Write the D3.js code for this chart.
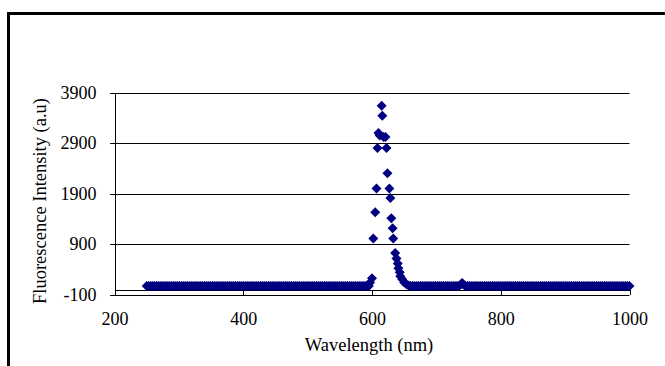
<!DOCTYPE html>
<html>
<head>
<meta charset="utf-8">
<script src="https://cdn.jsdelivr.net/npm/d3@7"></script>
<style>
  body { margin: 0; background: #fff; }
  svg { display: block; }
  text { font-family: "Liberation Serif", "Times New Roman", serif; fill: #000; }
  .axis text { font-size: 18px; }
  .axis path, .axis line { stroke: #000; shape-rendering: crispEdges; }
</style>
</head>
<body>
<div id="chart-area"></div>
<script>
// fluorescence emission scan
var flatLeftNm = [250,253,256,259,262,265,268,271,274,277,280,283,286,289,292,295,298,301,304,307,
    310,313,316,319,322,325,328,331,334,337,340,343,346,349,352,355,358,361,364,367,
    370,373,376,379,382,385,388,391,394,397,400,403,406,409,412,415,418,421,424,427,
    430,433,436,439,442,445,448,451,454,457,460,463,466,469,472,475,478,481,484,487,
    490,493,496,499,502,505,508,511,514,517,520,523,526,529,532,535,538,541,544,547,
    550,553,556,559,562,565,568,571,574,577,580,583,586,589,592,595];
var flatRightNm = [660,663,666,669,672,675,678,681,684,687,690,693,696,699,702,705,708,711,714,717,
    720,723,726,729,732,735,745,748,751,754,757,760,763,766,769,772,775,778,781,784,
    787,790,793,796,799,802,805,808,811,814,817,820,823,826,829,832,835,838,841,844,
    847,850,853,856,859,862,865,868,871,874,877,880,883,886,889,892,895,898,901,904,
    907,910,913,916,919,922,925,928,931,934,937,940,943,946,949,952,955,958,961,964,
    967,970,973,976,979,982,985,988,991,994,997,1000];
var baseLevel = 70;

var peakNm = [597,600,602,605,607,608.5,610,612,615,616,618,621,622.5,624,627,628.5,630,632,633,
    636,638,640,641,643,644,647,650,654,657,738,740,742];
var peakVal = [140,220,1010,1530,2000,2800,3100,3050,3640,3440,3020,3020,2800,2300,2000,1810,1410,1210,1010,
    720,615,515,420,340,260,200,140,100,80,100,130,100];

var yTicks = [-100,900,1900,2900,3900];
var xTicks = [200,400,600,800,1000];

var points = flatLeftNm.map((w)=>{ return {w: w, v: baseLevel}; })
    .concat(flatRightNm.map((w)=>{ return {w: w, v: baseLevel}; }))
    .concat(peakNm.map((w,i)=>{ return {w: w, v: peakVal[i]}; }));

var width = 665, height = 366;
var svg = d3.select("#chart-area").append("svg")
    .attr("width", width)
    .attr("height", height);

svg.append("rect").attr("width", width).attr("height", height).attr("fill", "#fff");

// outer frame (only top and left show in the picture)
svg.append("path")
    .attr("d", "M8.5,366 V13.5 H665")
    .attr("fill", "none")
    .attr("stroke", "#000")
    .attr("stroke-width", 3);

var x = d3.scaleLinear().domain([200,1000]).range([114.5,629.5]);
var y = d3.scaleLinear().domain([-100,3900]).range([294.5,92.5]);

// gridlines
svg.append("g").selectAll("line")
    .data(yTicks)
    .enter().append("line")
        .attr("x1", x(200)).attr("x2", x(1000))
        .attr("y1", (d)=>{ return Math.round(y(d)) + 0.5; })
        .attr("y2", (d)=>{ return Math.round(y(d)) + 0.5; })
        .attr("stroke", "#000")
        .attr("stroke-width", 1);

var leftAxis = d3.axisLeft(y)
    .tickValues(yTicks)
    .tickFormat((d)=>{ return String(d); })
    .tickSize(5)
    .tickSizeOuter(0)
    .tickPadding(13);
svg.append("g")
    .attr("class", "axis")
    .attr("transform", "translate(" + x(200) + ",0)")
    .call(leftAxis)
    .attr("font-family", null);

var bottomAxis = d3.axisBottom(x)
    .tickValues(xTicks)
    .tickFormat((d)=>{ return String(d); })
    .tickSize(5)
    .tickSizeOuter(0)
    .tickPadding(18);
svg.append("g")
    .attr("class", "axis")
    .attr("transform", "translate(0," + (Math.round(y(0)) + 0.5) + ")")
    .call(bottomAxis)
    .attr("font-family", null);

// diamond markers
var s = 5;
svg.append("g").selectAll("path.pt")
    .data(points)
    .enter().append("path")
        .attr("class", "pt")
        .attr("d", "M0," + (-s) + "L" + s + ",0L0," + s + "L" + (-s) + ",0Z")
        .attr("transform", (d)=>{ return "translate(" + x(d.w) + "," + y(d.v) + ")"; })
        .attr("fill", "#000080");

svg.append("text")
    .attr("x", 369)
    .attr("y", 351)
    .attr("font-size", "18.5px")
    .attr("text-anchor", "middle")
    .text("Wavelength (nm)");

svg.append("text")
    .attr("transform", "translate(46,201) rotate(-90)")
    .attr("font-size", "18.5px")
    .attr("text-anchor", "middle")
    .text("Fluorescence Intensity (a.u)");
</script>
</body>
</html>
